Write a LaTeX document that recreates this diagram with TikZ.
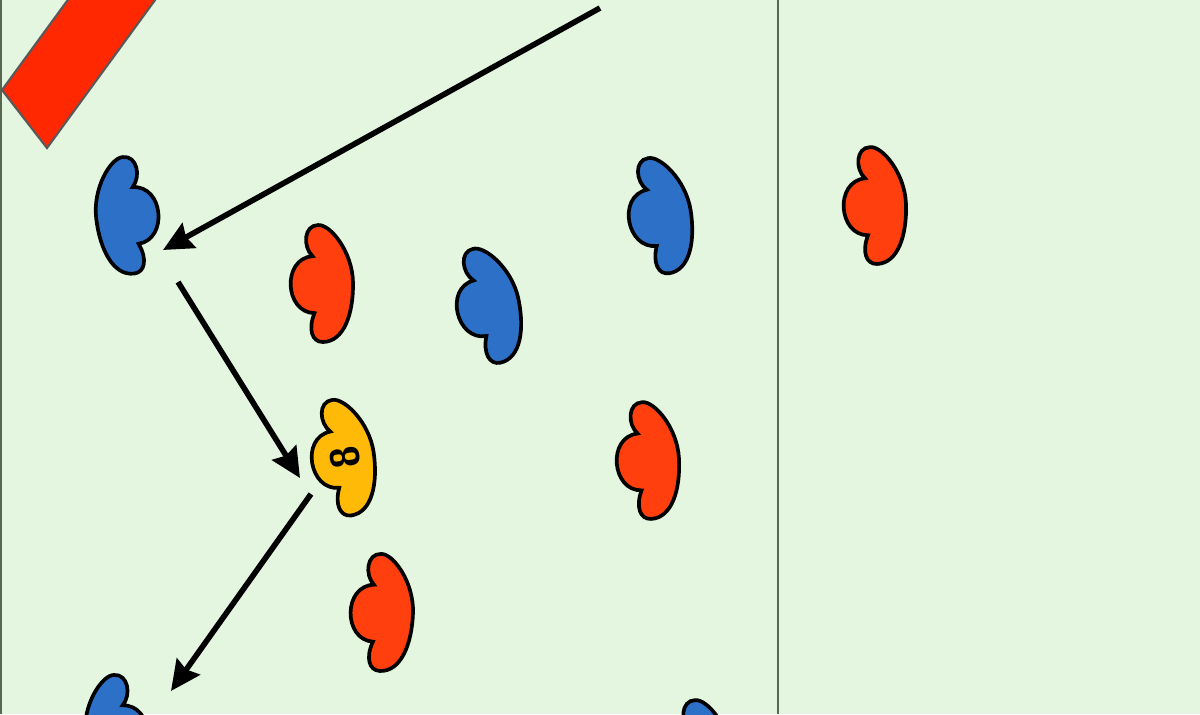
\documentclass[tikz,border=0pt]{standalone}
\usepackage{tikz}
\usetikzlibrary{arrows.meta}

\definecolor{pitch}{RGB}{228,246,224}
\definecolor{pitchline}{RGB}{88,104,80}
\definecolor{teamblue}{RGB}{45,112,200}
\definecolor{teamred}{RGB}{255,64,14}
\definecolor{keeper}{RGB}{255,186,8}
\definecolor{boxred}{RGB}{255,40,0}

\tikzset{
  pics/player/.style={code={
    \filldraw[fill=#1,draw=black,line width=2.1pt]
      (-3,-58) .. controls (9,-59) and (31,-31) .. (31,0)
               .. controls (31,31) and (21,59) .. (0,59)
               .. controls (-11,59) and (-15,46) .. (-8,30)
               .. controls (-38,29) and (-40,-25) .. (-9,-27)
               .. controls (-19,-37) and (-17,-58) .. (-3,-58) -- cycle;
  }},
  pass/.style={-{Stealth[length=17pt,width=16pt,inset=2pt]},line width=3.2pt,black},
  touchline/.style={pitchline,line width=1.2pt}
}

\begin{document}
\begin{tikzpicture}[x=0.02cm,y=-0.02cm]
  \useasboundingbox (0,0) rectangle (1200,714);
  \fill[pitch] (0,0) rectangle (1200,714);

  % lines of the pitch
  \draw[touchline] (1,0) -- (1,714);
  \draw[touchline] (778,0) -- (778,714);

  % red box in the corner
  \begin{scope}
    \clip (0,0) rectangle (1200,714);
    \filldraw[fill=boxred,draw=black!65,line width=1.2pt]
      (2,90) -- (47,148) -- (215,-82) -- (170,-140) -- cycle;
  \end{scope}

  % players
  \pic[rotate=7,xscale=-1]  at (127,215) {player=teamblue};
  \pic[rotate=1]            at (322,283) {player=teamred};
  \pic[rotate=12]           at (488,305) {player=teamblue};
  \pic[rotate=9]            at (660,215) {player=teamblue};
  \pic[rotate=2]            at (875,205) {player=teamred};
  \pic[rotate=8]            at (343,457) {player=keeper};
  \pic[rotate=3]            at (648,460) {player=teamred};
  \pic[rotate=-2]           at (382,612) {player=teamred};
  \pic[rotate=5,xscale=-1]  at (116,733) {player=teamblue};
  \pic[rotate=2]            at (700,758) {player=teamblue};

  \node[rotate=98,font=\sffamily\bfseries\fontsize{23}{23}\selectfont,inner sep=0pt]
    (num8) at (345,457) {8};

  % passes
  \coordinate (p1s) at (600,8);
  \coordinate (p1e) at (163,250);
  \coordinate (p2s) at (178,282);
  \coordinate (p2e) at (300,478);
  \coordinate (p3s) at (311,494);
  \coordinate (p3e) at (171,691);

  \draw[pass] (p1s) -- (p1e);
  \draw[pass] (p2s) -- (p2e);
  \draw[pass] (p3s) -- (p3e);
\end{tikzpicture}
\end{document}
